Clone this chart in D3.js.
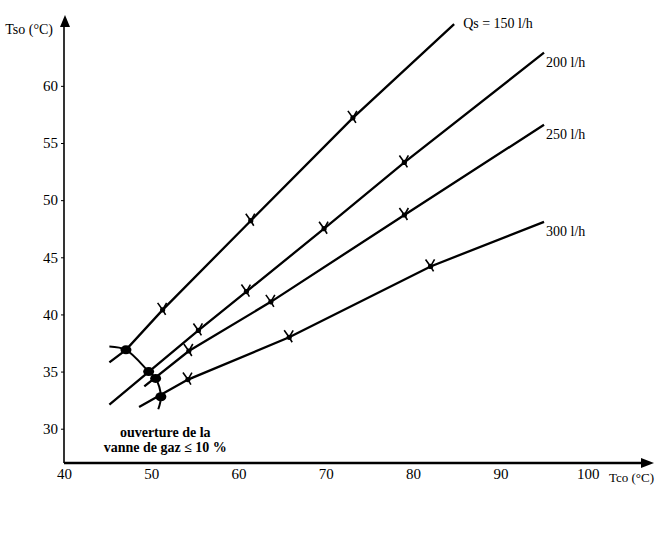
<!DOCTYPE html>
<html>
<head>
<meta charset="utf-8">
<script src="https://cdn.jsdelivr.net/npm/d3@7"></script>
<style>
  body { margin: 0; background: #fff; }
  svg { display: block; }
  text { font-family: "Liberation Serif", "DejaVu Serif", serif; fill: #000; }
</style>
</head>
<body>
<div id="chart"></div>
<script>
// tick values
var xTicks = [40, 50, 60, 70, 80, 90, 100];
var yTicks = [30, 35, 40, 45, 50, 55, 60];

// flow rates (labels at the end of each line)
var flowLabels = ['Qs = 150 l/h', '200 l/h', '250 l/h', '300 l/h'];

// lines [Tco, Tso]
var line150 = [[45.2, 35.8], [47.1, 36.9], [51.3, 40.4], [61.4, 48.2], [73.1, 57.2], [84.7, 65.4]];
var line200 = [[45.2, 32.1], [55.4, 38.6], [60.9, 42.0], [69.8, 47.5], [79.0, 53.3], [95.0, 62.9]];
var line250 = [[49.2, 33.7], [54.3, 36.8], [63.7, 41.1], [79.0, 48.7], [95.0, 56.6]];
var line300 = [[48.6, 31.9], [54.2, 34.3], [65.8, 38.0], [82.0, 44.2], [95.0, 48.1]];

// measured points (crosses)
var marks150 = [[51.3, 40.4], [61.4, 48.2], [73.1, 57.2]];
var marks200 = [[55.4, 38.6], [60.9, 42.0], [69.8, 47.5], [79.0, 53.3]];
var marks250 = [[54.3, 36.8], [63.7, 41.1], [79.0, 48.7]];
var marks300 = [[54.2, 34.3], [65.8, 38.0], [82.0, 44.2]];

// gas valve opening <= 10 % boundary
var valveCurve = [[45.2, 37.2], [47.1, 36.9], [49.7, 35.0], [50.5, 34.4], [51.1, 32.8], [50.8, 31.7]];
var valveDots = [[47.1, 36.9], [49.7, 35.0], [50.5, 34.4], [51.1, 32.8]];

var width = 657,
    height = 542;

var x = d3.scaleLinear().domain([40, 107.6]).range([64, 654]);
var y = d3.scaleLinear().domain([27, 66.2]).range([463, 15]);

var svg = d3.select('#chart')
    .append('svg')
        .attr('width', width)
        .attr('height', height);

// axes
var xAxis = svg.append('g')
    .attr('transform', 'translate(0,' + y(27) + ')')
    .call(d3.axisBottom(x).tickValues(xTicks).tickSize(0).tickPadding(5).tickFormat(d3.format('d')));
xAxis.select('.domain').remove();
xAxis.selectAll('text').style('font-size', '15px').style('font-family', '"Liberation Serif", serif');

var yAxis = svg.append('g')
    .attr('transform', 'translate(' + x(40) + ',0)')
    .call(d3.axisLeft(y).tickValues(yTicks).tickSize(3).tickPadding(3).tickFormat(d3.format('d')));
yAxis.select('.domain').remove();
yAxis.selectAll('line').attr('stroke', '#000').attr('stroke-width', 1);
yAxis.selectAll('text').style('font-size', '15px').style('font-family', '"Liberation Serif", serif');

// x axis line + arrow
svg.append('line')
    .attr('x1', x(40)).attr('y1', y(27))
    .attr('x2', x(106.3)).attr('y2', y(27))
    .attr('stroke', '#000').attr('stroke-width', 2.6);
svg.append('path')
    .attr('d', 'M' + x(107.6) + ',' + y(27) + 'l-13,-5l0,10z')
    .attr('fill', '#000');

// y axis line + arrow
svg.append('line')
    .attr('x1', x(40)).attr('y1', y(27))
    .attr('x2', x(40)).attr('y2', y(65.3))
    .attr('stroke', '#000').attr('stroke-width', 1.6);
svg.append('path')
    .attr('d', 'M' + (x(40) + 1) + ',' + y(66.2) + 'l-5,12l10,0z')
    .attr('fill', '#000');

// axis titles
svg.append('text')
    .attr('x', x(40) - 11).attr('y', y(66.2) + 19)
    .attr('text-anchor', 'end')
    .style('font-size', '14px')
    .text('Tso (°C)');
svg.append('text')
    .attr('x', width - 3).attr('y', y(27) + 19)
    .attr('text-anchor', 'end')
    .style('font-size', '13px')
    .text('Tco (°C)');

var lineGen = d3.line()
    .x(function (d) { return x(d[0]); })
    .y(function (d) { return y(d[1]); });

var lines = [line150, line200, line250, line300];
var marks = [marks150, marks200, marks250, marks300];

svg.selectAll('path.flow')
    .data(lines)
    .enter()
    .append('path')
        .attr('class', 'flow')
        .attr('d', lineGen)
        .attr('fill', 'none')
        .attr('stroke', '#000')
        .attr('stroke-width', 2.3);

// valve boundary
svg.append('path')
    .attr('d', lineGen.curve(d3.curveCatmullRom)(valveCurve))
    .attr('fill', 'none')
    .attr('stroke', '#000')
    .attr('stroke-width', 2);

svg.selectAll('ellipse.valve')
    .data(valveDots)
    .enter()
    .append('ellipse')
        .attr('class', 'valve')
        .attr('cx', function (d) { return x(d[0]); })
        .attr('cy', function (d) { return y(d[1]); })
        .attr('rx', 5.5)
        .attr('ry', 4.5)
        .attr('fill', '#000');

// crosses on the lines
var allMarks = [];
marks.forEach(function (m) { m.forEach(function (p) { allMarks.push(p); }); });

var markG = svg.selectAll('g.mark')
    .data(allMarks)
    .enter()
    .append('g')
        .attr('class', 'mark')
        .attr('transform', function (d) { return 'translate(' + x(d[0]) + ',' + y(d[1]) + ')'; });
markG.append('path')
    .attr('d', 'M-5,-7L0,0M4,-7L0,0L3,5')
    .attr('fill', 'none')
    .attr('stroke', '#000')
    .attr('stroke-width', 1.6);
markG.append('circle')
    .attr('r', 2.6)
    .attr('fill', '#000');

// flow labels at line ends
svg.selectAll('text.flowlabel')
    .data(lines)
    .enter()
    .append('text')
        .attr('class', 'flowlabel')
        .attr('x', function (d, i) { return x(d[d.length - 1][0]) + (i === 0 ? 9 : 2); })
        .attr('y', function (d, i) { return y(d[d.length - 1][1]) + (i === 0 ? 4 : 14); })
        .style('font-size', '14px')
        .text(function (d, i) { return flowLabels[i]; });

// annotation
svg.append('text')
    .attr('x', x(51.6)).attr('y', y(30) + 8)
    .attr('text-anchor', 'middle')
    .style('font-size', '14px')
    .style('font-weight', 'bold')
    .text('ouverture de la');
svg.append('text')
    .attr('x', x(51.6)).attr('y', y(30) + 23)
    .attr('text-anchor', 'middle')
    .style('font-size', '14px')
    .style('font-weight', 'bold')
    .text('vanne de gaz ≤ 10 %');
</script>
</body>
</html>
